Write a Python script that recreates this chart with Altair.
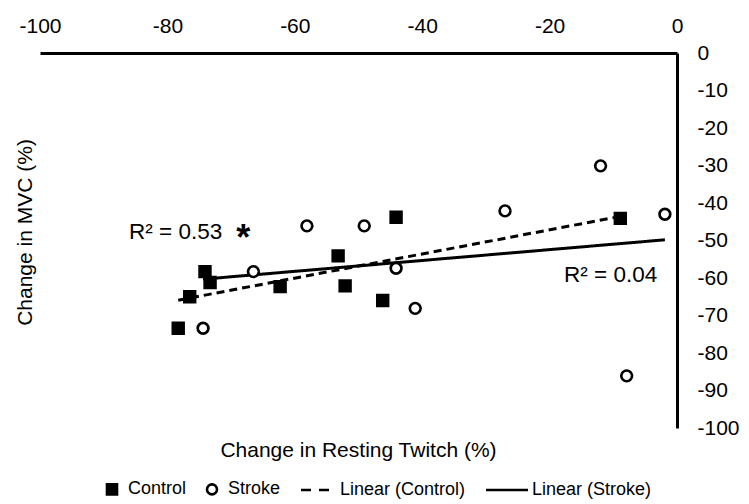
import altair as alt
import pandas as pd

# ---- data ----
control_x = [-78.3, -76.5, -74.1, -73.3, -62.3, -53.2, -52.1, -46.2, -44.1, -8.9]
control_y = [-73.4, -65.0, -58.3, -61.2, -62.3, -54.1, -62.1, -66.0, -43.8, -44.1]
stroke_x = [-74.4, -66.5, -58.1, -49.1, -44.1, -41.1, -27.0, -12.0, -1.9, -7.9]
stroke_y = [-73.4, -58.3, -46.1, -46.1, -57.4, -68.1, -42.1, -30.1, -43.0, -86.1]

x_ticks = [-100, -80, -60, -40, -20, 0]
y_ticks = [0, -10, -20, -30, -40, -50, -60, -70, -80, -90, -100]

series = ["Control", "Stroke", "Linear (Control)", "Linear (Stroke)"]

annot_text = ["R² = 0.53", "R² = 0.04"]
annot_x = [-71.4, -3.1]
annot_y = [-47.7, -59.2]
star_text = ["*"]
star_x = [-68.1]
star_y = [-52.5]

FONT = "Liberation Sans"
FS = 21

df = pd.DataFrame({
    "x": control_x + stroke_x,
    "y": control_y + stroke_y,
    "group": ["Control"] * len(control_x) + ["Stroke"] * len(stroke_x),
})
ann = pd.DataFrame({"x": annot_x, "y": annot_y, "t": annot_text})
star = pd.DataFrame({"x": star_x, "y": star_y, "t": star_text})

xscale = alt.Scale(domain=[-100, 0], nice=False, zero=False)
yscale = alt.Scale(domain=[-100, 0], nice=False, zero=False)

x_enc = alt.X("x:Q", scale=xscale, axis=alt.Axis(
    orient="top", values=x_ticks, labelFlush=False, labelOverlap=False,
    labelExpr="'' + datum.value", ticks=False, grid=False,
    domainColor="black", domainWidth=3, labelFontSize=FS, labelFont=FONT,
    labelColor="black", labelPadding=17,
    title="Change in Resting Twitch (%)", titleX=318, titleY=397,
    titleFontSize=FS, titleFont=FONT, titleFontWeight="normal",
    titleColor="black", titleBaseline="middle", titleAlign="center"))
y_enc = alt.Y("y:Q", scale=yscale, axis=alt.Axis(
    orient="right", values=y_ticks, ticks=False, grid=False, labelOverlap=False,
    labelExpr="'' + datum.value",
    domainColor="black", domainWidth=3, labelFontSize=FS, labelFont=FONT,
    labelColor="black", labelPadding=20,
    title="Change in MVC (%)", titleX=-652, titleY=179, titleAngle=270,
    titleFontSize=FS, titleFont=FONT, titleFontWeight="normal",
    titleColor="black", titleBaseline="middle", titleAlign="center"))

legend = alt.Legend(
    title=None, orient="none", legendX=63, legendY=427, direction="horizontal",
    columns=4, labelFontSize=18, labelFont=FONT, labelColor="black",
    symbolSize=100, symbolStrokeWidth=2.6, symbolStrokeColor="black",
    columnPadding=14, labelOffset=7)

shapes = ["square", "circle", "M-4.6,0H-2.6M-1,0H1", "M-6,0H2.4"]
fills = ["black", "white", "white", "white"]
strokes = ["black", "black", "black", "black"]

base = alt.Chart(df)

points = base.mark_point(filled=True, strokeWidth=2.7, size=115, opacity=1).encode(
    x=x_enc, y=y_enc,
    shape=alt.Shape("group:N", scale=alt.Scale(domain=series, range=shapes), legend=legend),
    fill=alt.Fill("group:N", scale=alt.Scale(domain=series, range=fills), legend=legend),
    stroke=alt.Stroke("group:N", scale=alt.Scale(domain=series, range=strokes), legend=legend),
)

lines = base.transform_regression("x", "y", groupby=["group"]).mark_line(
    strokeWidth=3, color="black").encode(
    x=x_enc, y=y_enc,
    strokeDash=alt.StrokeDash("group:N", scale=alt.Scale(domain=["Control", "Stroke"],
                                                         range=[[8, 5], [1, 0]]), legend=None),
)

annots = alt.Chart(ann).mark_text(align="right", baseline="middle", fontSize=22.5,
                                  font=FONT, color="black").encode(
    x=x_enc, y=y_enc, text="t:N")

stars = alt.Chart(star).mark_text(align="center", baseline="alphabetic", fontSize=36,
                                  font=FONT, fontWeight="bold", color="black").encode(
    x=x_enc, y=y_enc, text="t:N")

chart = alt.layer(lines, points, annots, stars).properties(
    width=637, height=375,
    autosize=alt.AutoSizeParams(type="none"),
    padding={"left": 40, "top": 53, "right": 72, "bottom": 76},
    background="white",
).configure_view(stroke=None)

chart.save("out.html", embed_options={"renderer": "svg", "actions": False})
